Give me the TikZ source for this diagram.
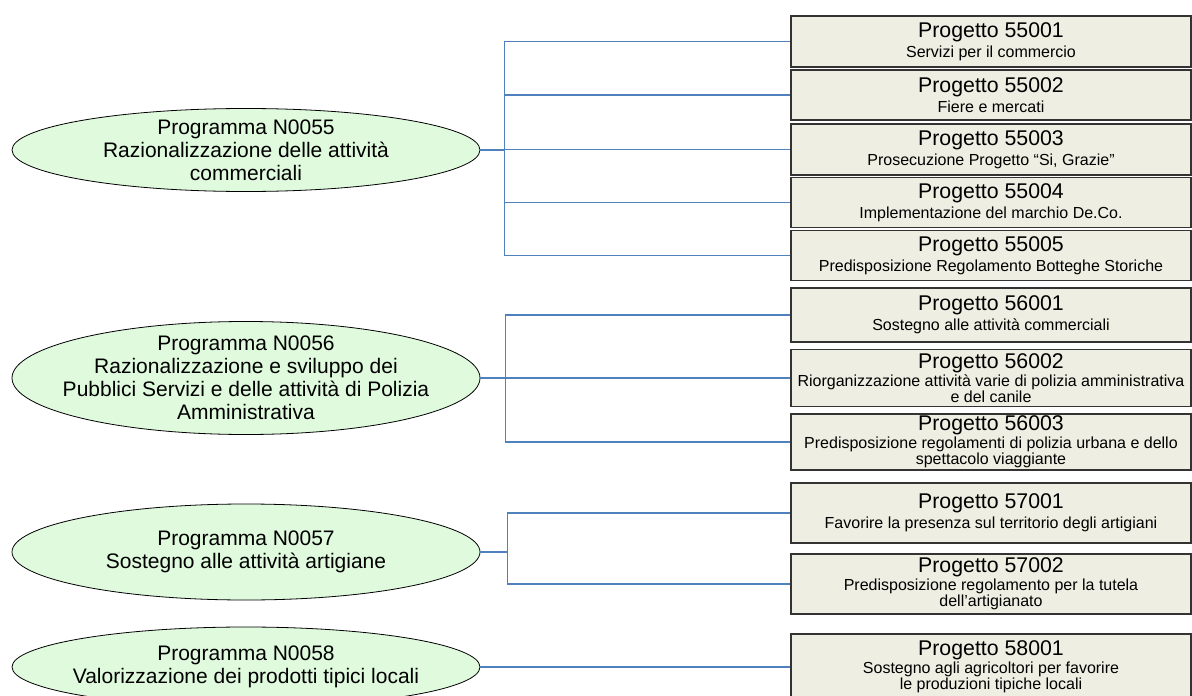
\documentclass[tikz,border=0pt]{standalone}
\usepackage{fontspec}
\setmainfont{Liberation Sans}
\usepackage{tikz}
\usetikzlibrary{shapes.geometric,positioning}

\definecolor{progfill}{RGB}{224,250,222}
\definecolor{projfill}{RGB}{238,238,226}
\definecolor{linkblue}{RGB}{79,129,189}

\newcommand\ttl{\fontsize{21.3}{22}\selectfont}
\newcommand\sbt{\fontsize{16}{16}\selectfont}

\begin{document}
\begin{tikzpicture}[x=1pt,y=-1pt,
    prog/.style={ellipse,draw=black,line width=0.8pt,fill=progfill,minimum width=468,inner sep=0pt},
    progtxt/.style={align=center,inner sep=0pt,font=\fontsize{21}{23}\selectfont},
    proj/.style={rectangle,draw=black!80,line width=1.3pt,fill=projfill,minimum width=400,inner sep=0pt},
    projtxt/.style={align=center,inner sep=0pt},
    link/.style={draw=linkblue,line width=1.3pt}]
  \useasboundingbox (0,0) rectangle (1192,696);

  % Programmi
  \node[prog,minimum height=83] (n55) at (246,150) {};
  \node[prog,minimum height=113] (n56) at (246,378) {};
  \node[prog,minimum height=96] (n57) at (246,552) {};
  \node[prog,minimum height=80] (n58) at (246,667) {};

  \node[progtxt] (m55) at (n55) {Programma N0055\\Razionalizzazione delle attività\\commerciali};
  \node[progtxt] (m56) at (n56) {Programma N0056\\Razionalizzazione e sviluppo dei\\Pubblici Servizi e delle attività di Polizia\\Amministrativa};
  \node[progtxt] (m57) at (n57) {Programma N0057\\Sostegno alle attività artigiane};
  \node[progtxt] (m58) at (n58) {Programma N0058\\Valorizzazione dei prodotti tipici locali};

  % Progetti
  \node[proj,minimum height=51] (p55001) at (991,41.5) {};
  \node[proj,minimum height=50] (p55002) at (991,95) {};
  \node[proj,minimum height=51] (p55003) at (991,149.5) {};
  \node[proj,minimum height=50] (p55004) at (991,202.5) {};
  \node[proj,minimum height=50] (p55005) at (991,255.5) {};
  \node[proj,minimum height=54] (p56001) at (991,315) {};
  \node[proj,minimum height=57] (p56002) at (991,378) {};
  \node[proj,minimum height=56] (p56003) at (991,442) {};
  \node[proj,minimum height=60] (p57001) at (991,513) {};
  \node[proj,minimum height=60] (p57002) at (991,584) {};
  \node[proj,minimum height=66] (p58001) at (991,667) {};

  % testi dei progetti
  \node[projtxt] (t55001) at (p55001) {\ttl Progetto 55001\\[3pt]\sbt Servizi per il commercio};
  \node[projtxt] (t55002) at (p55002) {\ttl Progetto 55002\\[3pt]\sbt Fiere e mercati};
  \node[projtxt] (t55003) at (p55003) {\ttl Progetto 55003\\[3pt]\sbt Prosecuzione Progetto “Si, Grazie”};
  \node[projtxt] (t55004) at (p55004) {\ttl Progetto 55004\\[3pt]\sbt Implementazione del marchio De.Co.};
  \node[projtxt] (t55005) at (p55005) {\ttl Progetto 55005\\[3pt]\sbt Predisposizione Regolamento Botteghe Storiche};
  \node[projtxt] (t56001) at (p56001) {\ttl Progetto 56001\\[3pt]\sbt Sostegno alle attività commerciali};
  \node[projtxt] (t56002) at (p56002) {\ttl Progetto 56002\\[1pt]\sbt Riorganizzazione attività varie di polizia amministrativa\\\sbt e del canile};
  \node[projtxt] (t56003) at (p56003) {\ttl Progetto 56003\\[1pt]\sbt Predisposizione regolamenti di polizia urbana e dello\\\sbt spettacolo viaggiante};
  \node[projtxt] (t57001) at (p57001) {\ttl Progetto 57001\\[3pt]\sbt Favorire la presenza sul territorio degli artigiani};
  \node[projtxt] (t57002) at (p57002) {\ttl Progetto 57002\\[1pt]\sbt Predisposizione regolamento per la tutela\\\sbt dell’artigianato};
  \node[projtxt] (t58001) at (p58001) {\ttl Progetto 58001\\[1pt]\sbt Sostegno agli agricoltori per favorire\\\sbt le produzioni tipiche locali};

  % collegamenti
  \foreach \p in {55001,55002,55003,55004,55005}
    \draw[link] (n55.east) -- ++(24,0) |- (p\p.west);
  \foreach \p in {56001,56002,56003}
    \draw[link] (n56.east) -- ++(25,0) |- (p\p.west);
  \foreach \p in {57001,57002}
    \draw[link] (n57.east) -- ++(27,0) |- (p\p.west);
  \draw[link] (n58.east) -- (p58001.west);
\end{tikzpicture}
\end{document}
